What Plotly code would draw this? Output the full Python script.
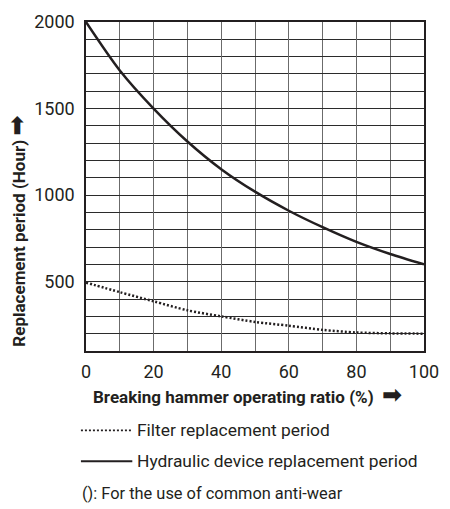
import plotly.graph_objects as go

# Breaking hammer operating ratio (%)
ratio = [0, 10, 20, 30, 40, 50, 60, 70, 80, 90, 100]
# Replacement periods (hours)
hydraulic_hours = [2000, 1720, 1500, 1310, 1150, 1020, 910, 815, 730, 660, 600]
filter_hours = [495, 440, 387, 335, 300, 268, 246, 222, 207, 202, 200]

x_ticks = [0, 20, 40, 60, 80, 100]
y_ticks = [500, 1000, 1500, 2000]

FONT = "Roboto"
INK = "#231f20"
ARROW = '<span style="font-family:DejaVu Sans;font-size:24px"><b>➡</b></span>'

fig = go.Figure()
fig.add_trace(go.Scatter(
    x=ratio, y=filter_hours, mode="lines", name="Filter replacement period",
    line=dict(color=INK, width=2.5, dash="2px,2px", shape="spline", smoothing=0.8),
    showlegend=False,
))
fig.add_trace(go.Scatter(
    x=ratio, y=hydraulic_hours, mode="lines", name="Hydraulic device replacement period",
    line=dict(color=INK, width=2.5, shape="spline", smoothing=0.8),
    showlegend=False,
))

fig.update_xaxes(
    range=[0, 100], tickvals=x_ticks, showgrid=True, gridcolor="#6b6b6b", gridwidth=1.2,
    minor=dict(dtick=10, tick0=0, showgrid=True, gridcolor="#6b6b6b", gridwidth=1.2),
    showline=True, linecolor=INK, linewidth=1.5, mirror=True,
    ticks="", ticklabelstandoff=4, zeroline=False,
    tickfont=dict(family=FONT, size=18, color=INK),
)
fig.update_yaxes(
    range=[100, 2000], tickvals=y_ticks, showgrid=True, gridcolor="#2b2b2b", gridwidth=1.2,
    minor=dict(dtick=100, tick0=0, showgrid=True, gridcolor="#2b2b2b", gridwidth=1.2),
    showline=True, linecolor=INK, linewidth=1.5, mirror=True,
    ticks="", ticklabelstandoff=6, zeroline=False,
    tickfont=dict(family=FONT, size=18, color=INK),
)

# Legend samples drawn below the axis title
legend_rows = [
    ("Filter replacement period", "2px,2px", -0.241),
    ("Hydraulic device replacement period", "solid", -0.335),
]
shapes = []
annotations = []
for label, dash, yy in legend_rows:
    shapes.append(dict(type="line", xref="paper", yref="paper",
                       x0=-0.015, x1=0.137, y0=yy, y1=yy,
                       line=dict(color=INK, width=2 if dash == "solid" else 1.8, dash=dash)))
    annotations.append(dict(text=label, xref="paper", yref="paper", x=0.146, y=yy,
                            xanchor="left", yanchor="middle", showarrow=False,
                            font=dict(family=FONT, size=17.4, color=INK)))

annotations.append(dict(text="(): For the use of common anti-wear", xref="paper", yref="paper",
                        x=-0.018, y=-0.432, xanchor="left", yanchor="middle", showarrow=False,
                        font=dict(family=FONT, size=16.4, color=INK)))
annotations.append(dict(text="<b>Breaking hammer operating ratio (%)</b>  " + ARROW,
                        xref="paper", yref="paper", x=0.477, y=-0.135,
                        xanchor="center", yanchor="middle", showarrow=False,
                        font=dict(family=FONT, size=17, color=INK)))
annotations.append(dict(text="<b>Replacement period (Hour)</b> " + ARROW,
                        xref="paper", yref="paper", x=-0.205, y=0.365, textangle=-90,
                        xanchor="center", yanchor="middle", showarrow=False,
                        font=dict(family=FONT, size=17, color=INK)))

fig.update_layout(
    width=450, height=509,
    margin=dict(l=86, r=22, t=11, b=158),
    plot_bgcolor="white", paper_bgcolor="white",
    shapes=shapes, annotations=annotations,
    font=dict(family=FONT, color=INK),
)

fig.write_html("out.html")
